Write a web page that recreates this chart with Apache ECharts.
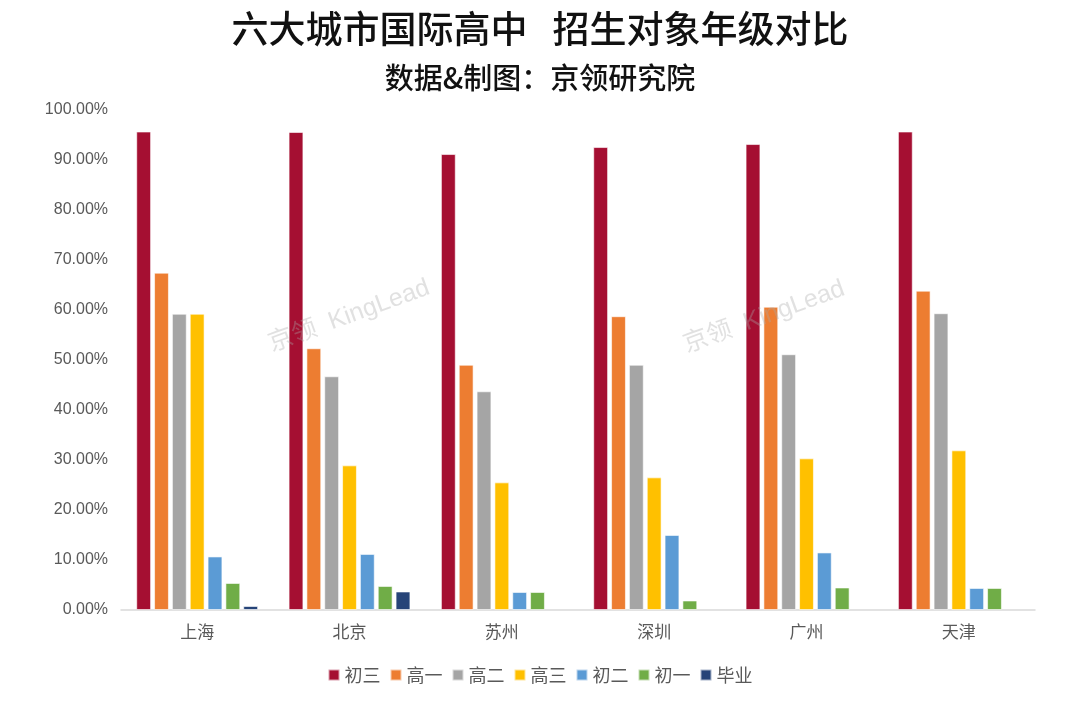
<!DOCTYPE html>
<html>
<head>
<meta charset="utf-8">
<script src="https://cdn.jsdelivr.net/npm/echarts@6/dist/echarts.min.js"></script>
<style>
html,body{margin:0;padding:0;background:#fff;}
#c{width:1080px;height:708px;}
</style>
</head>
<body>
<div id="c"></div>
<script>
var categories = ['上海', '北京', '苏州', '深圳', '广州', '天津'];
var seriesNames = ['初三', '高一', '高二', '高三', '初二', '初一', '毕业'];
var chu3 = [95.6, 95.5, 91.1, 92.5, 93.1, 95.6];
var gao1 = [67.4, 52.3, 49.0, 58.7, 60.6, 63.8];
var gao2 = [59.2, 46.7, 43.7, 49.0, 51.1, 59.3];
var gao3 = [59.2, 28.9, 25.5, 26.5, 30.3, 31.9];
var chu2 = [10.7, 11.2, 3.6, 15.0, 11.5, 4.4];
var chu1 = [5.4, 4.8, 3.6, 1.9, 4.5, 4.4];
var biye = [0.8, 3.7, null, null, null, null];
var seriesValues = [chu3, gao1, gao2, gao3, chu2, chu1, biye];
var colors = ['#A50F32', '#ED7D31', '#A5A5A5', '#FFC000', '#5B9BD5', '#70AD47', '#264478'];

var chart = echarts.init(document.getElementById('c'), null, {renderer: 'canvas'});
var latin = '"Liberation Sans", "Noto Sans CJK SC", sans-serif';
var cjk = '"Noto Sans CJK SC", sans-serif';

var series = seriesNames.map(function (n, i) {
  return {
    name: n,
    type: 'bar',
    data: seriesValues[i],
    barGap: '20%',
    barCategoryGap: '20%',
    itemStyle: {color: colors[i], borderColor: 'rgba(255,255,255,0.6)', borderWidth: 1},
    emphasis: {disabled: true}
  };
});

var wm = function (x, y) {
  return {
    type: 'text',
    x: x, y: y,
    rotation: 20 * Math.PI / 180,
    z: 100,
    style: {
      text: '京领  KingLead',
      fill: 'rgba(170,170,170,0.35)',
      font: '25px ' + latin,
      align: 'center',
      verticalAlign: 'middle'
    }
  };
};

chart.setOption({
  animation: false,
  color: colors,
  title: [
    {
      text: '六大城市国际高中   招生对象年级对比',
      left: 'center', top: 5,
      textStyle: {fontFamily: cjk, fontSize: 37, fontWeight: 500, color: '#111'}
    },
    {
      text: '数据&制图：京领研究院',
      left: 'center', top: 58,
      textStyle: {fontFamily: cjk, fontSize: 29, fontWeight: 500, color: '#111'}
    }
  ],
  grid: {left: 121, right: 45, top: 109.5, bottom: 98, containLabel: false},
  legend: {
    data: seriesNames,
    bottom: 19,
    left: 'center',
    itemWidth: 11,
    itemHeight: 11,
    itemGap: 9,
    icon: 'rect',
    textStyle: {fontFamily: cjk, fontSize: 18, color: '#595959'}
  },
  xAxis: {
    type: 'category',
    data: categories,
    axisLine: {lineStyle: {color: '#D9D9D9', width: 1.5}},
    axisTick: {show: false},
    axisLabel: {fontFamily: cjk, fontSize: 17, color: '#595959', margin: 13}
  },
  yAxis: {
    type: 'value',
    min: 0, max: 100, interval: 10,
    splitLine: {show: false},
    axisLine: {show: false},
    axisTick: {show: false},
    axisLabel: {
      fontFamily: latin, fontSize: 16, color: '#595959', margin: 13,
      formatter: function (v) { return v.toFixed(2) + '%'; }
    }
  },
  graphic: [wm(349, 316), wm(764, 317)],
  series: series
});
</script>
</body>
</html>
